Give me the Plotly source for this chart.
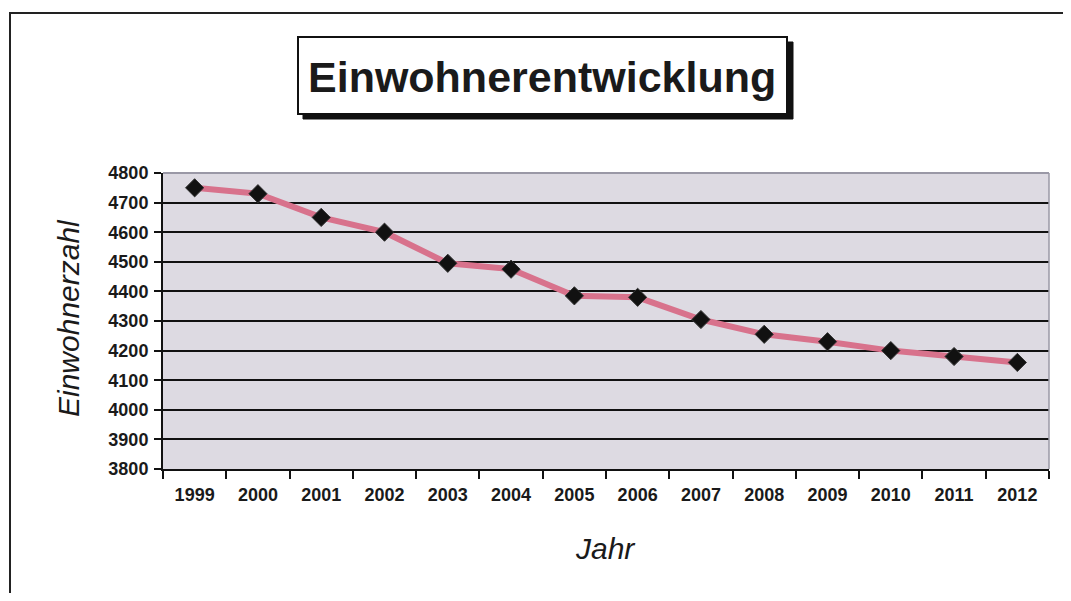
import plotly.graph_objects as go

years = ["1999", "2000", "2001", "2002", "2003", "2004", "2005",
         "2006", "2007", "2008", "2009", "2010", "2011", "2012"]
einwohner = [4750, 4730, 4650, 4600, 4495, 4475, 4385,
             4380, 4305, 4255, 4230, 4200, 4180, 4160]
y_ticks = [3800, 3900, 4000, 4100, 4200, 4300, 4400, 4500, 4600, 4700, 4800]

title_text = "Einwohnerentwicklung"
x_title = "Jahr"
y_title = "Einwohnerzahl"

OFF = 8  # page body margin
W, H = 1071 - 2 * OFF, 601 - 2 * OFF
L, R, T, B = 163 - OFF, 1049 - OFF, 173 - OFF, 469 - OFF  # plot area in figure pixels


def px(x):
    return (x - OFF - L) / (R - L)


def py(y):
    return (B - (y - OFF)) / (B - T)


fig = go.Figure()
fig.add_trace(go.Scatter(
    x=years, y=einwohner, mode="lines+markers",
    line=dict(color="#d8728c", width=6),
    marker=dict(symbol="diamond", size=14, color="#111111",
                line=dict(color="#333333", width=1)),
    showlegend=False,
))

shapes = [
    # outer chart border
    dict(type="rect", xref="paper", yref="paper",
         x0=px(10), x1=px(1100), y0=py(630), y1=py(13),
         line=dict(color="#222222", width=2), layer="below"),
    # top and right plot-area border (thin grey)
    dict(type="line", xref="paper", yref="paper", x0=0, x1=1, y0=1, y1=1,
         line=dict(color="#9a98a6", width=2), layer="above"),
    dict(type="line", xref="paper", yref="paper", x0=1, x1=1, y0=0, y1=1,
         line=dict(color="#9a98a6", width=1.5), layer="above"),
    # title box shadow
    dict(type="rect", xref="paper", yref="paper",
         x0=px(303), x1=px(793), y0=py(119), y1=py(42),
         fillcolor="#111111", line=dict(color="#111111", width=1), layer="above"),
    # title box
    dict(type="rect", xref="paper", yref="paper",
         x0=px(298), x1=px(787), y0=py(114), y1=py(37),
         fillcolor="white", line=dict(color="#111111", width=2), layer="above"),
]

annotations = [
    dict(text=f"<b>{title_text}</b>", xref="paper", yref="paper",
         x=px(542), y=py(77), xanchor="center", yanchor="middle",
         showarrow=False, font=dict(family="Liberation Sans, Arial", size=43, color="#1a1a1a")),
    dict(text=f"<i>{x_title}</i>", xref="paper", yref="paper",
         x=px(605), y=py(548), xanchor="center", yanchor="middle",
         showarrow=False, font=dict(family="Liberation Sans, Arial", size=30, color="#1a1a1a")),
    dict(text=f"<i>{y_title}</i>", xref="paper", yref="paper",
         x=px(68), y=py(318), xanchor="center", yanchor="middle", textangle=-90,
         showarrow=False, font=dict(family="Liberation Sans, Arial", size=30, color="#1a1a1a")),
]

fig.update_layout(
    width=W, height=H,
    margin=dict(l=L, r=W - R, t=T, b=H - B, pad=0),
    paper_bgcolor="white",
    plot_bgcolor="#dddae2",
    shapes=shapes,
    annotations=annotations,
    font=dict(family="Liberation Sans, Arial", color="#1a1a1a"),
)

fig.update_xaxes(
    type="category", tickson="boundaries", range=[-0.5, len(years) - 0.5],
    showgrid=False, showline=True, linecolor="#111111", linewidth=2,
    ticks="outside", ticklen=8, tickwidth=2, tickcolor="#111111",
    tickfont=dict(size=18, family="Liberation Sans, Arial", weight="bold"),
    ticklabelstandoff=8,
)
fig.update_yaxes(
    range=[3800, 4800], tickvals=y_ticks,
    showgrid=True, gridcolor="#111111", gridwidth=2,
    showline=True, linecolor="#111111", linewidth=2,
    ticks="outside", ticklen=7, tickwidth=2, tickcolor="#111111",
    tickfont=dict(size=18, family="Liberation Sans, Arial", weight="bold"),
    ticklabelstandoff=2, zeroline=False,
)

fig.write_html("out.html")
